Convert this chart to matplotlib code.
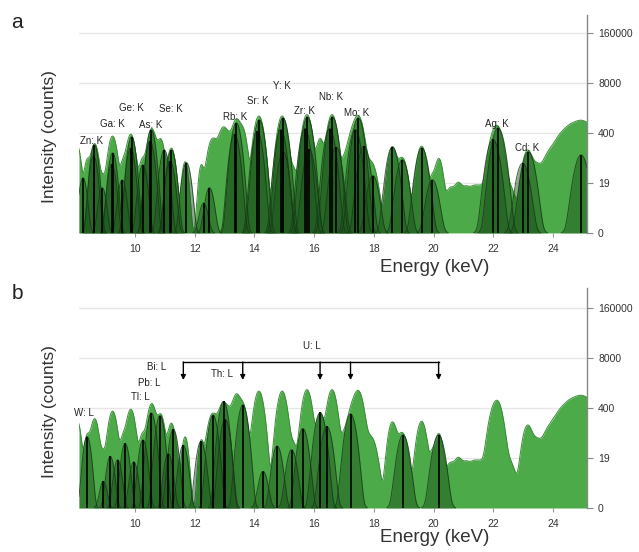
import numpy as np
import matplotlib
matplotlib.use("Agg")
import matplotlib.pyplot as plt

plt.rcParams["font.family"] = ["Liberation Sans", "DejaVu Sans"]

# ---------------------------------------------------------------- data
# measured spectrum (light green, same in both panels):
# component centre (keV), height (counts), width (keV)
SPEC_E = [8.04, 8.40, 8.65, 8.92, 9.25, 9.60, 9.86, 10.25, 10.56, 10.86,
          11.22, 11.68, 12.22, 12.60, 12.96, 13.18, 13.40, 13.62, 14.15,
          14.93, 15.30, 15.76, 16.20, 16.60, 17.00, 17.25, 17.48, 17.90,
          18.62, 18.95, 19.60, 19.96, 20.18, 20.55, 20.83, 21.10, 21.35,
          21.58, 21.99, 22.16, 22.55, 23.15, 23.45, 23.85, 24.25, 24.60,
          24.95, 25.30]
SPEC_COUNTS = [220, 75, 210, 25, 330, 65, 370, 80, 520, 270,
               160, 70, 55, 280, 550, 200, 880, 450, 1100,
               1100, 45, 1200, 280, 1200, 70, 300, 1100, 70,
               170, 90, 180, 25, 85, 13, 18, 13, 13,
               13, 260, 500, 15, 140, 50, 100, 280, 500,
               650, 450]
SPEC_WIDTH = [0.10, 0.08, 0.10, 0.08, 0.11, 0.08, 0.11, 0.09, 0.11, 0.10,
              0.10, 0.08, 0.07, 0.13, 0.13, 0.10, 0.11, 0.10, 0.12,
              0.12, 0.10, 0.12, 0.10, 0.12, 0.10, 0.12, 0.13, 0.15,
              0.11, 0.13, 0.12, 0.08, 0.10, 0.12, 0.12, 0.12, 0.12,
              0.12, 0.13, 0.13, 0.15, 0.13, 0.13, 0.18, 0.20, 0.20,
              0.20, 0.20]

# panel a: K-line fit components (keV, counts)
K_E = [8.260, 8.616, 8.639, 8.905, 9.225, 9.252, 9.572, 9.855, 9.886,
       10.264, 10.508, 10.544, 10.982, 11.182, 11.222, 11.726, 12.300,
       12.496, 13.336, 13.395, 14.098, 14.165, 14.883, 14.958, 14.961,
       15.691, 15.775, 15.836, 16.521, 16.615, 16.738, 17.374, 17.479,
       17.668, 17.970, 18.623, 18.953, 19.608, 19.965, 21.990, 22.163,
       22.984, 23.174, 24.942]
K_COUNTS = [26, 100, 195, 14, 60, 120, 23, 160, 315,
            58, 240, 480, 144, 72, 144, 66, 5,
            14, 365, 730, 435, 870, 490, 980, 130,
            520, 1040, 150, 520, 1040, 170, 490, 980,
            180, 30, 172, 79, 162, 23, 270, 540,
            64, 128, 106]
K_LABELS = ["Zn: K", "Ga: K", "Ge: K", "As: K", "Se: K", "Rb: K", "Sr: K",
            "Y: K", "Zr: K", "Nb: K", "Mo: K", "Ag: K", "Cd: K"]
K_LABEL_E = [8.56, 9.23, 9.87, 10.54, 11.21, 13.35, 14.12, 14.92, 15.69,
             16.56, 17.43, 22.12, 23.13]
K_LABEL_COUNTS = [247, 685, 1788, 645, 1685, 1043, 2720, 6670, 1495,
                  3455, 1326, 685, 163]

# panel b: L-line fit components (keV, counts)
L_E = [8.398, 8.940, 9.175, 9.420, 9.672, 9.962, 10.268, 10.551, 10.839,
       11.118, 11.286, 11.618, 12.213, 12.614, 12.968, 13.024, 13.615,
       14.292, 14.764, 15.248, 15.623, 16.202, 16.428, 17.220, 18.982,
       20.167]
L_COUNTS = [71, 4, 21, 17, 47, 15, 58, 295, 253,
            25, 110, 42, 53, 262, 590, 200, 480,
            8, 40, 32, 116, 305, 131, 280, 79,
            79]
L_LABELS = ["W: L", "Tl: L", "Pb: L", "Bi: L", "Th: L"]
L_LABEL_E = [8.29, 10.17, 10.47, 10.74, 12.91]
L_LABEL_COUNTS = [296, 773, 1788, 4670, 3065]
U_LINES = [11.62, 13.61, 16.20, 17.22, 20.17]
U_LABEL_E = 15.93
U_LABEL_COUNTS = 16400
U_BAR_COUNTS = 6290
U_TIP_COUNTS = 2137

X_TICKS = [10, 12, 14, 16, 18, 20, 22, 24]
Y_TICKS = [0, 19, 400, 8000, 160000]

# ---------------------------------------------------------------- style
LIGHT = "#4caa49"
LIGHT_EDGE = "#3d8c3a"
DARK = "#1d531d"
DARK_EDGE = "#163a16"
XLIM = (8.125, 25.14)
X = np.linspace(XLIM[0], XLIM[1], 4000)


def fwd(y):
    return np.log1p(np.maximum(y, 0)) / np.log(20)


def inv(u):
    return np.expm1(u * np.log(20))


def gauss(x, c, h, w):
    return h * np.exp(-(x - c) ** 2 / (2 * w ** 2))


def line_width(e):
    # detector resolution grows with energy
    return 0.06 + 0.004 * e


def spectrum(x):
    y = np.zeros_like(x)
    for c, h, w in zip(SPEC_E, SPEC_COUNTS, SPEC_WIDTH):
        y += gauss(x, c, h, w)
    return y


def draw_panel(ax, lines_e, lines_c, top_u):
    ax.set_yscale("function", functions=(fwd, inv))
    ax.set_xlim(*XLIM)
    ax.set_ylim(0, inv(top_u))
    ax.set_axisbelow(True)
    ax.grid(axis="y", color="#e6e6e6", lw=0.9)
    ax.grid(axis="x", visible=False)

    spec = spectrum(X)
    ax.fill_between(X, 0, spec, color=LIGHT, lw=0, zorder=1)
    ax.plot(X, spec, color=LIGHT_EDGE, lw=0.7, zorder=1.1)

    for e, c in zip(lines_e, lines_c):
        y = gauss(X, e, c, line_width(e))
        m = y > 0.02
        ax.fill_between(X[m], 0, y[m], color=DARK, alpha=0.5, lw=0, zorder=2)
        ax.plot(X[m], y[m], color=DARK_EDGE, lw=0.7, alpha=0.8, zorder=2.1)
        ax.vlines(e, 0, c, color="black", lw=1.2, zorder=3)

    ax.set_xticks(X_TICKS)
    ax.set_xticklabels([str(t) for t in X_TICKS])
    ax.set_yticks(Y_TICKS)
    ax.set_yticklabels([str(t) for t in Y_TICKS])
    ax.yaxis.tick_right()
    ax.tick_params(axis="x", length=3, color="#999999", pad=5,
                   labelsize=7.5, labelcolor="#333333")
    ax.tick_params(axis="y", length=4, color="#888888", pad=4,
                   labelsize=7.5, labelcolor="#333333")
    ax.yaxis.set_minor_locator(matplotlib.ticker.NullLocator())
    for s in ("left", "top", "bottom"):
        ax.spines[s].set_visible(False)
    ax.spines["right"].set_color("#888888")
    ax.spines["right"].set_linewidth(1.0)


fig = plt.figure(figsize=(6.39, 5.52), dpi=100)
ax_a = fig.add_axes([0.1236, 0.578, 0.795, 0.395])
ax_b = fig.add_axes([0.1236, 0.0797, 0.795, 0.3986])

draw_panel(ax_a, K_E, K_COUNTS, 4.36)
draw_panel(ax_b, L_E, L_COUNTS, 4.40)

for lab, e, c in zip(K_LABELS, K_LABEL_E, K_LABEL_COUNTS):
    ax_a.text(e, c, lab, fontsize=7, ha="center", va="center",
              color="#222222", zorder=5)
for lab, e, c in zip(L_LABELS, L_LABEL_E, L_LABEL_COUNTS):
    ax_b.text(e, c, lab, fontsize=7, ha="center", va="center",
              color="#222222", zorder=5)

# U: L bracket with arrows
ax_b.plot([U_LINES[0], U_LINES[-1]], [U_BAR_COUNTS, U_BAR_COUNTS],
          color="black", lw=1.0, zorder=5)
for e in U_LINES:
    ax_b.annotate("", xy=(e, U_TIP_COUNTS), xytext=(e, U_BAR_COUNTS),
                  arrowprops=dict(arrowstyle="-|>", color="black", lw=1.0,
                                  mutation_scale=7, shrinkA=0, shrinkB=0),
                  zorder=5)
ax_b.text(U_LABEL_E, U_LABEL_COUNTS, "U: L", fontsize=7, ha="center",
          va="center", color="#222222", zorder=5)

# axis titles and panel letters
for ylab_y, xlab_y, letter, letter_y in [(0.752, 0.516, "a", 0.960),
                                         (0.254, 0.027, "b", 0.469)]:
    fig.text(0.078, ylab_y, "Intensity (counts)", rotation=90, fontsize=12.5,
             ha="center", va="center", color="#333333")
    fig.text(0.681, xlab_y, "Energy (keV)", fontsize=13.5, ha="center",
             va="center", color="#333333")
    fig.text(0.027, letter_y, letter, fontsize=15, ha="center", va="center",
             color="#222222")

fig.savefig("out.png", dpi=100)
